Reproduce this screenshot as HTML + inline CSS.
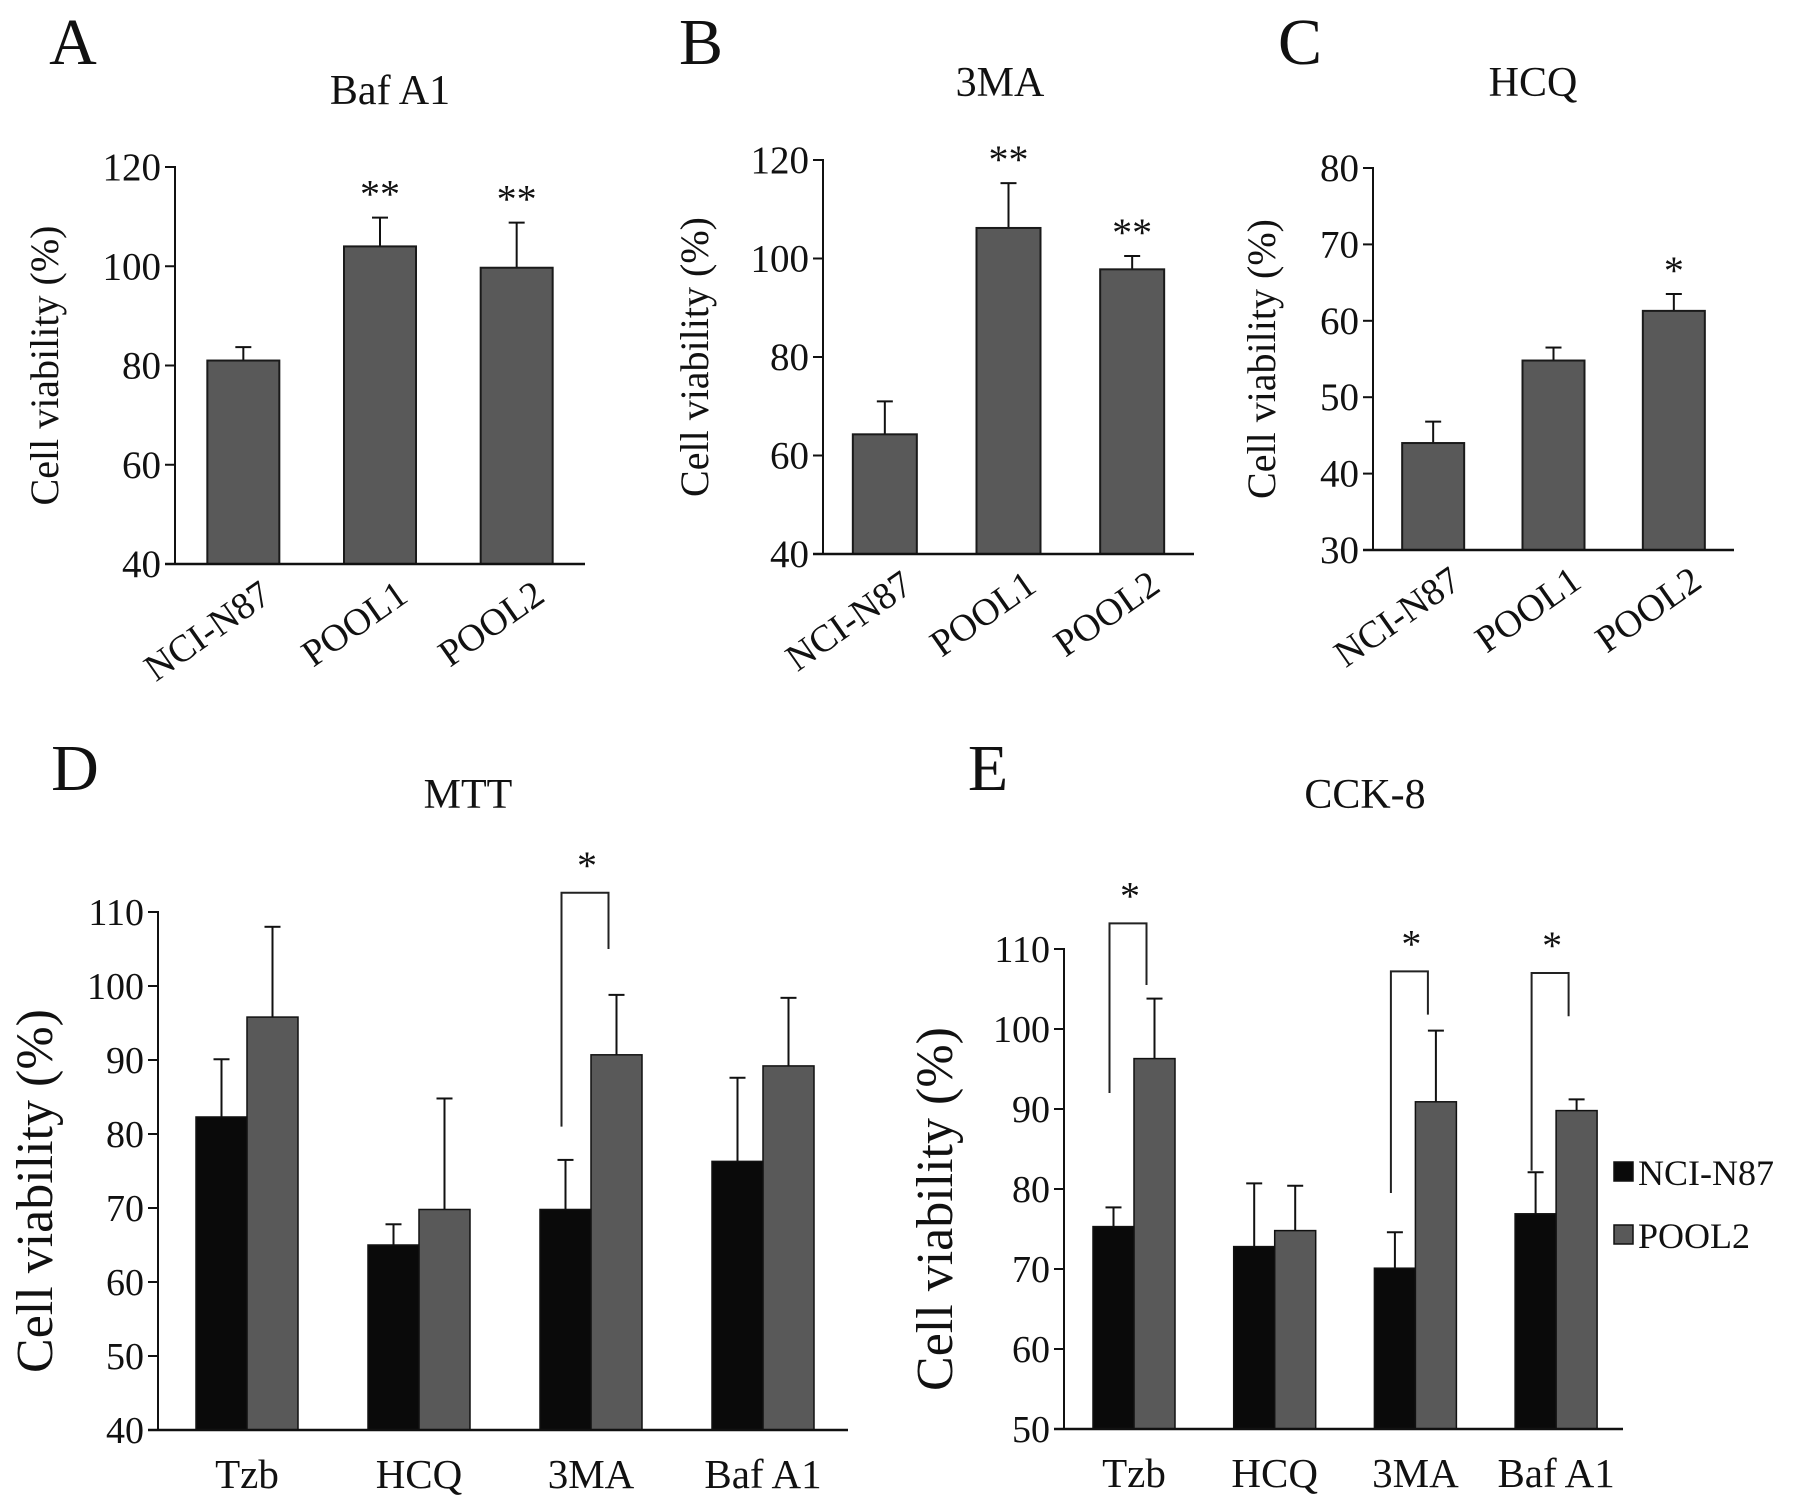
<!DOCTYPE html>
<html><head><meta charset="utf-8">
<style>
html,body{margin:0;padding:0;background:#fff;}
svg{display:block;font-family:"Liberation Serif","Times New Roman",serif;}
</style></head>
<body>
<svg id="fig" width="1795" height="1511" viewBox="0 0 1795 1511" xmlns="http://www.w3.org/2000/svg"></svg>
<script>
// Panel A-C data
const abcCategories = ["NCI-N87", "POOL1", "POOL2"];
const aValues = [81, 104, 99.7];
const aErrors = [2.7, 5.8, 9.1];
const aStars = ["", "**", "**"];
const aTicks = [40, 60, 80, 100, 120];
const bValues = [64.3, 106.2, 97.8];
const bErrors = [6.7, 9.1, 2.7];
const bStars = ["", "**", "**"];
const bTicks = [40, 60, 80, 100, 120];
const cValues = [44, 54.8, 61.3];
const cErrors = [2.8, 1.7, 2.2];
const cStars = ["", "", "*"];
const cTicks = [30, 40, 50, 60, 70, 80];
// Panel D-E data
const deCategories = ["Tzb", "HCQ", "3MA", "Baf A1"];
const dNci = [82.3, 65, 69.8, 76.3];
const dNciErr = [7.8, 2.8, 6.7, 11.3];
const dPool = [95.8, 69.8, 90.7, 89.2];
const dPoolErr = [12.2, 15, 8.1, 9.2];
const dSig = [false, false, true, false];
// bracket levels in data units: [top, left leg bottom, right leg bottom]
const dBrackets = [null, null, [112.6, 81, 105], null];
const dTicks = [40, 50, 60, 70, 80, 90, 100, 110];
const eNci = [75.3, 72.8, 70.1, 76.9];
const eNciErr = [2.4, 7.9, 4.5, 5.2];
const ePool = [96.3, 74.8, 90.9, 89.8];
const ePoolErr = [7.5, 5.6, 8.9, 1.4];
const eSig = [true, false, true, true];
const eBrackets = [[113.2, 92, 105.5], null, [107.2, 79.5, 101.8], [107, 82.3, 101.6]];
const eTicks = [50, 60, 70, 80, 90, 100, 110];
const legendLabels = ["NCI-N87", "POOL2"];

const svg = document.getElementById('fig');
const NS = "http://www.w3.org/2000/svg";
function mk(tag, attrs, parent) {
  const e = document.createElementNS(NS, tag);
  for (const k in attrs) e.setAttribute(k, attrs[k]);
  (parent || svg).appendChild(e);
  return e;
}
function txt(s, x, y, size, anchor, parent) {
  const t = mk('text', {x: x, y: y, 'font-size': size, 'text-anchor': anchor || 'middle', fill: '#111'}, parent);
  t.textContent = s;
  return t;
}

function simplePanel(cfg) {
  const g = mk('g', {});
  
  
  const ymin = cfg.ticks[0], ymax = cfg.ticks[cfg.ticks.length - 1];
  const yS = v => cfg.y0 - (v - ymin) / (ymax - ymin) * (cfg.y0 - cfg.y1);
  const pitch = (cfg.xEnd - cfg.x0) / cfg.cats.length;
  const xS = i => cfg.x0 + pitch * (i + 0.5) + cfg.shift;
  const lab = txt(cfg.letter, cfg.letterX, cfg.letterY, 66, 'middle', g);
  
  
  const ti = txt(cfg.title, cfg.titleX, cfg.titleY, 42, 'middle', g);
  
  
  const yl = txt('Cell viability (%)', 0, 0, 40, 'middle', g);
  yl.setAttribute('transform', `translate(${cfg.ylx},${(cfg.y0 + cfg.y1) / 2}) rotate(-90)`);
  
  
  cfg.ticks.forEach(t => {
    const y = yS(t);
    mk('line', {x1: cfg.x0 - 10, x2: cfg.x0, y1: y, y2: y, stroke: '#111', 'stroke-width': 2}, g);
    const tl = txt(String(t), cfg.x0 - 14, y + 13, 39, 'end', g);
    
    
  });
  cfg.cats.forEach((c, i) => {
    const cx = xS(i), w = cfg.barW;
    const top = yS(cfg.vals[i]), eTop = yS(cfg.vals[i] + cfg.errs[i]);
    mk('line', {x1: cx, x2: cx, y1: top, y2: eTop, stroke: '#111', 'stroke-width': 2}, g);
    mk('line', {x1: cx - 8, x2: cx + 8, y1: eTop, y2: eTop, stroke: '#111', 'stroke-width': 2}, g);
    const r = mk('rect', {x: cx - w / 2, y: top, width: w, height: cfg.y0 - top, fill: '#595959', stroke: '#1a1a1a', 'stroke-width': 2}, g);
    
    
    if (cfg.stars[i]) {
      const s = txt(cfg.stars[i], cx, eTop - 10, 40, 'middle', g);
      
      
    }
    const xl = txt(c, 0, 0, 38, 'end', g);
    xl.setAttribute('transform', `translate(${cx + 30},${cfg.y0 + 36}) rotate(-35)`);
    
    
  });
  mk('line', {x1: cfg.x0, x2: cfg.x0, y1: cfg.y1 - 1, y2: cfg.y0, stroke: '#111', 'stroke-width': 2}, g);
  mk('line', {x1: cfg.x0 - 10, x2: cfg.xEnd, y1: cfg.y0, y2: cfg.y0, stroke: '#111', 'stroke-width': 2.5}, g);
}

simplePanel({name: 'panel-a-baf-a1', letter: 'A', letterX: 73, letterY: 64, title: 'Baf A1', titleX: 390, titleY: 104,
  x0: 175, xEnd: 585, y0: 564, y1: 167, shift: 0, barW: 72, ylx: 58, cats: abcCategories, vals: aValues, errs: aErrors, stars: aStars, ticks: aTicks});
simplePanel({name: 'panel-b-3ma', letter: 'B', letterX: 701, letterY: 64, title: '3MA', titleX: 1000, titleY: 96,
  x0: 823, xEnd: 1194, y0: 554, y1: 160, shift: 0, barW: 64, ylx: 708, cats: abcCategories, vals: bValues, errs: bErrors, stars: bStars, ticks: bTicks});
simplePanel({name: 'panel-c-hcq', letter: 'C', letterX: 1300, letterY: 64, title: 'HCQ', titleX: 1533, titleY: 96,
  x0: 1373, xEnd: 1734, y0: 550, y1: 168, shift: 0, barW: 62, ylx: 1275, cats: abcCategories, vals: cValues, errs: cErrors, stars: cStars, ticks: cTicks});

function groupedPanel(cfg) {
  const g = mk('g', {});
  
  
  const ymin = cfg.ticks[0], ymax = cfg.ticks[cfg.ticks.length - 1];
  const yS = v => cfg.y0 - (v - ymin) / (ymax - ymin) * (cfg.y0 - cfg.y1);
  const xS = i => cfg.firstCenter + cfg.pitch * i;
  const lab = txt(cfg.letter, cfg.letterX, cfg.letterY, 66, 'middle', g);
  
  
  const ti = txt(cfg.title, cfg.titleX, cfg.titleY, 42, 'middle', g);
  
  
  const yl = txt('Cell viability (%)', 0, 0, 52, 'middle', g);
  yl.setAttribute('transform', `translate(${cfg.ylx},${(cfg.y0 + cfg.y1) / 2 + 20}) rotate(-90)`);
  
  
  cfg.ticks.forEach(t => {
    const y = yS(t);
    mk('line', {x1: cfg.x0 - 10, x2: cfg.x0, y1: y, y2: y, stroke: '#111', 'stroke-width': 2}, g);
    const tl = txt(String(t), cfg.x0 - 14, y + 13, 38, 'end', g);
    
    
  });
  cfg.cats.forEach((c, i) => {
    const cx = xS(i), w = cfg.barW;
    const series = [[cfg.nci, cfg.nciErr, '#0a0a0a', -1], [cfg.pool, cfg.poolErr, '#595959', 1]];
    const tops = [];
    series.forEach(([vals, errs, col, side]) => {
      const bx = side < 0 ? cx - w : cx;
      const bc = bx + w / 2;
      const top = yS(vals[i]), eTop = yS(vals[i] + errs[i]);
      mk('line', {x1: bc, x2: bc, y1: top, y2: eTop, stroke: '#111', 'stroke-width': 2}, g);
      mk('line', {x1: bc - 8, x2: bc + 8, y1: eTop, y2: eTop, stroke: '#111', 'stroke-width': 2}, g);
      const r = mk('rect', {x: bx, y: top, width: w, height: cfg.y0 - top, fill: col, stroke: '#111', 'stroke-width': 1.5}, g);
      
      
      tops.push({bc: bc});
    });
    if (cfg.sig[i] && cfg.brackets[i]) {
      const L = tops[0], R = tops[1];
      const [bTop, lBot, rBot] = cfg.brackets[i];
      const bt = yS(bTop);
      const br = mk('polyline', {points: `${L.bc - 4},${yS(lBot)} ${L.bc - 4},${bt} ${R.bc - 8},${bt} ${R.bc - 8},${yS(rBot)}`, fill: 'none', stroke: '#222', 'stroke-width': 2}, g);
      
      
      const s = txt('*', (L.bc + R.bc) / 2 - 4, bt - 14, 40, 'middle', g);
      
      
    }
    const xl = txt(c, cx, cfg.y0 + 58, 41, 'middle', g);
    
    
  });
  mk('line', {x1: cfg.x0, x2: cfg.x0, y1: cfg.y1 - 1, y2: cfg.y0, stroke: '#111', 'stroke-width': 2}, g);
  mk('line', {x1: cfg.x0 - 10, x2: cfg.xEnd, y1: cfg.y0, y2: cfg.y0, stroke: '#111', 'stroke-width': 2.5}, g);
}

groupedPanel({name: 'panel-d-mtt', letter: 'D', letterX: 75, letterY: 790, title: 'MTT', titleX: 468, titleY: 808,
  x0: 158, xEnd: 848, y0: 1430, y1: 912, firstCenter: 247, pitch: 172, barW: 51, ylx: 52,
  cats: deCategories, nci: dNci, nciErr: dNciErr, pool: dPool, poolErr: dPoolErr, sig: dSig, brackets: dBrackets, ticks: dTicks});
groupedPanel({name: 'panel-e-cck8', letter: 'E', letterX: 988, letterY: 790, title: 'CCK-8', titleX: 1365, titleY: 808,
  x0: 1064, xEnd: 1623, y0: 1429, y1: 949, firstCenter: 1134, pitch: 140.7, barW: 41, ylx: 952,
  cats: deCategories, nci: eNci, nciErr: eNciErr, pool: ePool, poolErr: ePoolErr, sig: eSig, brackets: eBrackets, ticks: eTicks});

// legend
const lg = mk('g', {});


const legendColors = ['#0a0a0a', '#595959'];
legendLabels.forEach((l, i) => {
  const y = 1172 + i * 63;
  const sq = mk('rect', {x: 1614, y: y - 10, width: 19, height: 19, fill: legendColors[i], stroke: '#111', 'stroke-width': 1.5}, lg);
  
  
  const t = txt(l, 1638, y + 13, 36, 'start', lg);
  
  
});
</script>
</body></html>
